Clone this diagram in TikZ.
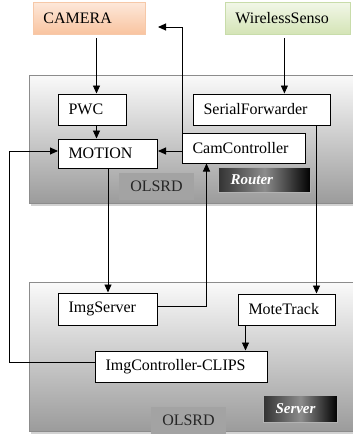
\documentclass[tikz,border=0pt]{standalone}
\usepackage{fontspec}
\setmainfont{Liberation Serif}
\usetikzlibrary{arrows.meta}
\definecolor{camtop}{RGB}{253,232,218}
\definecolor{cambot}{RGB}{249,196,160}
\definecolor{camline}{RGB}{246,200,168}
\definecolor{wsntop}{RGB}{242,247,232}
\definecolor{wsnbot}{RGB}{212,228,182}
\definecolor{wsnline}{RGB}{200,220,170}
\begin{document}
\begin{tikzpicture}[x=1pt,y=-1pt,font=\fontsize{16}{19}\selectfont,
  unit/.style={draw=black,fill=white,line width=1pt,anchor=west,align=left,inner xsep=10pt,inner ysep=0pt,minimum height=31pt},
  source/.style={unit,line width=0.8pt},
  tag/.style={draw=gray!60,line width=1pt,left color=black!80,right color=black,middle color=black!45,anchor=west,inner xsep=12pt,inner ysep=0pt,text=white,font=\fontsize{15}{18}\selectfont\bfseries\itshape},
  olsrd/.style={fill=gray!72,text=black!85,inner sep=0pt,minimum height=27pt},
  area/.style={draw=gray!90,line width=1pt,top color=gray!4,bottom color=gray!78},
  flow/.style={draw=black,line width=0.9pt,-{Triangle[length=8pt,width=7pt]}}]
\useasboundingbox (0,0) rectangle (353,437);
% router and server areas
\fill[gray!35] (31,78) rectangle (362,206);
\shade[area] (29,75) rectangle (362,203);
\fill[gray!35] (31,285) rectangle (362,434);
\shade[area] (29,282) rectangle (362,431);
\begin{scope}
\node[source,top color=camtop,bottom color=cambot,draw=camline,text width=92pt,minimum height=32pt] (camera) at (33,18) {CAMERA};
\node[source,top color=wsntop,bottom color=wsnbot,draw=wsnline,text width=105pt,minimum height=32pt] (wsn) at (225,18) {WirelessSenso};
\node[unit,text width=48pt] (pwc) at (58,109.5) {PWC};
\node[unit,text width=117pt] (serial) at (193,109.5) {SerialForwarder};
\node[unit,text width=79pt,minimum height=29pt] (motion) at (58,153.5) {MOTION};
\node[unit,text width=103pt,minimum height=30pt] (cam) at (182,148) {CamController};
\node[olsrd,minimum width=75pt] (olsrd1) at (156.5,186.5) {OLSRD};
\node[tag,text width=68pt,minimum height=25pt] (router) at (218,179.5) {Router};
\node[unit,text width=79pt,minimum height=32pt] (imgsrv) at (58,309) {ImgServer};
\node[unit,text width=77pt] (mote) at (238,309.5) {MoteTrack};
\node[unit,text width=152pt] (imgctl) at (95,366.5) {ImgController-CLIPS};
\node[tag,text width=50pt,minimum height=27pt] (server) at (263,408.5) {Server};
\node[olsrd,minimum width=75pt] (olsrd2) at (188.5,420) {OLSRD};
\coordinate (camout) at (158,27);
\end{scope}
\begin{scope}
\draw[flow,shorten <=4pt] ([xshift=4pt]pwc.north |- camera.south) -- ([xshift=4pt]pwc.north);
\draw[flow,shorten <=4pt] ([xshift=-3.5pt]wsn.south) -- ([xshift=-3.5pt]wsn.south |- serial.north);
\draw[flow] ([xshift=4pt]pwc.south) -- ([xshift=4pt]pwc.south |- motion.north);
\draw[flow] ([yshift=-3pt]cam.west) -- ([yshift=-3pt]cam.west -| motion.east);
\draw[flow] (cam.north west) |- (camout);
\draw[flow] (motion.south) -- (motion.south |- imgsrv.north);
\draw[flow] ([yshift=3pt]imgsrv.east) -| ([xshift=-37.5pt]cam.south);
\draw[flow] ([xshift=54.5pt]serial.south) -- ([xshift=54.5pt]serial.south |- mote.north);
\draw[flow] ([xshift=-41.5pt]mote.south) -- ([xshift=-41.5pt]mote.south |- imgctl.north);
\draw[flow] ([yshift=4pt]imgctl.west) -- ++(-86,0) |- ([yshift=2.5pt]motion.west);
\end{scope}
\end{tikzpicture}
\end{document}
